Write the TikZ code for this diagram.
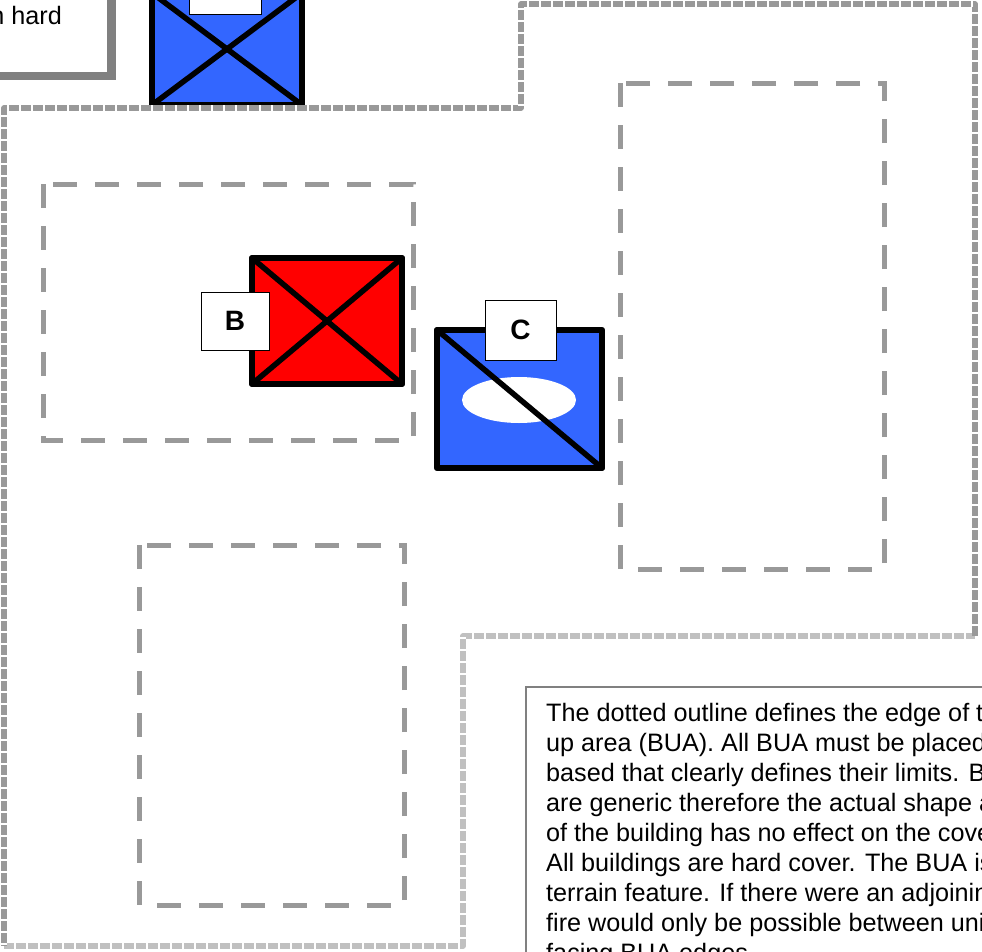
\documentclass[tikz,border=0pt]{standalone}
\usepackage{fontspec}
\setmainfont{Liberation Sans}
\usetikzlibrary{shapes.geometric}
\definecolor{bblue}{HTML}{3366FF}
\definecolor{bred}{HTML}{FF0000}
\definecolor{dgray}{HTML}{999999}
\definecolor{lgray}{HTML}{C0C0C0}
\definecolor{sgray}{HTML}{808080}
\tikzset{
  bldg/.style={draw=black, line width=6.5pt, line join=round, inner sep=0pt, outer sep=0pt},
  diag/.style={draw=black, line width=5.5pt, line cap=round},
  lbl/.style={draw=black, line width=1pt, fill=white, inner sep=0pt, outer sep=0pt,
              font=\fontsize{28}{32}\selectfont\bfseries},
  zone/.style={draw=dgray, line width=5pt, dash pattern=on 24pt off 18pt},
  buaband/.style={line width=5.5pt, line join=round},
  buagap/.style={draw=white, line width=6pt, dash pattern=on 1.8pt off 10.2pt, dash phase=-10pt},
  txt/.style={anchor=base west, inner sep=0pt, font=\fontsize{25.2}{30}\selectfont}
}
\begin{document}
\begin{tikzpicture}[x=1pt,y=-1pt]
\useasboundingbox (0,0) rectangle (982,951);
\clip (0,0) rectangle (982,951);
\fill[white] (0,0) rectangle (982,951);

% top-left note box with shadow
\fill[sgray] (-12,-12) rectangle (116,80);
\draw[sgray, line width=0.8pt, fill=white] (-20,-20) rectangle (107,72);
\node[inner sep=0pt, anchor=base east, font=\fontsize{25.2}{30}\selectfont] (tl) at (62,24) {n hard};

% dashed zones
\draw[zone] (43,184) rectangle (413,440);
\draw[zone] (620,83) rectangle (884,569);
\draw[zone] (139,545) rectangle (404,905);

% building A (top, cut off)
\node[bldg, fill=bblue, minimum width=150pt, minimum height=112pt] (bA) at (227,49) {};
\draw[diag] (bA.north west) -- (bA.south east);
\draw[diag] (bA.south west) -- (bA.north east);
\node[lbl, minimum width=72pt, minimum height=58pt] (lA) at (225,-15) {};

% building B
\node[bldg, fill=bred, minimum width=150pt, minimum height=126pt] (bB) at (327,321) {};
\draw[diag] (bB.north west) -- (bB.south east);
\draw[diag] (bB.south west) -- (bB.north east);
\node[lbl, minimum width=68pt, minimum height=58pt] (lB) at (235,321) {B};

% building C
\node[bldg, fill=bblue, minimum width=165pt, minimum height=138pt] (bC) at (519.5,399) {};
\node[ellipse, fill=white, inner sep=0pt, minimum width=114pt, minimum height=46pt] (eC) at (519,400) {};
\draw[diag] (bC.north west) -- (bC.south east);
\node[lbl, minimum width=71pt, minimum height=60pt] (lC) at (520.5,330) {C};

% BUA outline: grey band broken by short gaps
\draw[buaband, draw=lgray] (4,946) -- (463,946) -- (463,636) -- (975,636);
\draw[buagap] (4,946) -- (463,946) -- (463,636) -- (975,636);
\draw[buaband, draw=dgray] (975,636) -- (975,4) -- (521,4) -- (521,108) -- (4,108) -- (4,946);
\draw[buagap] (975,636) -- (975,4) -- (521,4) -- (521,108) -- (4,108) -- (4,946);

% explanation box
\draw[sgray, line width=1.2pt, fill=white] (526,687) rectangle (1010,1010);
\node[txt] (t1) at (546,721) {The dotted outline defines the edge of the};
\node[txt] (t2) at (546,751) {up area (BUA). All BUA must be placed};
\node[txt] (t3) at (546,781) {based that clearly defines their limits. Buildings};
\node[txt] (t4) at (546,811) {are generic therefore the actual shape and};
\node[txt] (t5) at (546,841) {of the building has no effect on the cover.};
\node[txt] (t6) at (546,871) {All buildings are hard cover. The BUA is};
\node[txt] (t7) at (546,901) {terrain feature. If there were an adjoining};
\node[txt] (t8) at (546,931) {fire would only be possible between units};
\node[txt] (t9) at (546,961) {facing BUA edges.};
\end{tikzpicture}
\end{document}
